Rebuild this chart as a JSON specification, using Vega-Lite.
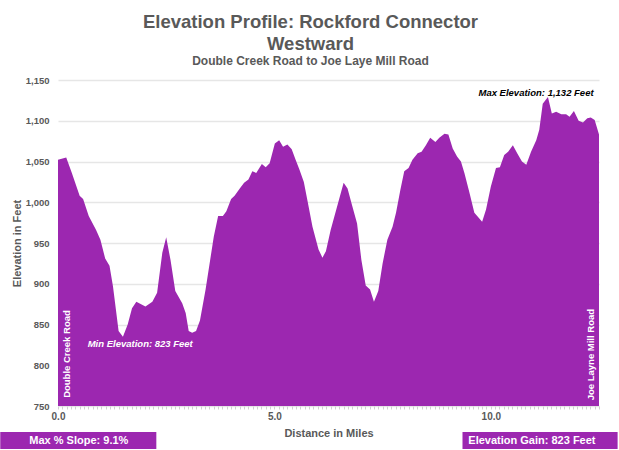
{
  "$schema": "https://vega.github.io/schema/vega-lite/v6.json",
  "width": 541,
  "height": 326,
  "autosize": "none",
  "padding": {"left": 58, "top": 80, "right": 20, "bottom": 44},
  "background": "white",
  "config": {
    "font": "Liberation Sans",
    "view": {"stroke": null}
  },
  "title": {
    "text": ["Elevation Profile: Rockford Connector", "Westward"],
    "subtitle": "Double Creek Road to Joe Laye Mill Road",
    "fontSize": 18.5,
    "fontWeight": "bold",
    "color": "#595959",
    "subtitleColor": "#595959",
    "subtitleFontSize": 12,
    "subtitleFontWeight": "bold",
    "anchor": "middle",
    "dx": -18,
    "lineHeight": 22,
    "subtitlePadding": 3,
    "offset": 8
  },
  "datasets": {
    "profile": [
      {"mile": 0.0, "elev": 1052}, {"mile": 0.19, "elev": 1055}, {"mile": 0.32, "elev": 1036},
      {"mile": 0.5, "elev": 1008}, {"mile": 0.58, "elev": 1004}, {"mile": 0.71, "elev": 983},
      {"mile": 0.88, "elev": 966}, {"mile": 0.98, "elev": 954}, {"mile": 1.09, "elev": 931},
      {"mile": 1.19, "elev": 922}, {"mile": 1.27, "elev": 897}, {"mile": 1.4, "elev": 842},
      {"mile": 1.5, "elev": 835}, {"mile": 1.61, "elev": 850}, {"mile": 1.71, "elev": 870},
      {"mile": 1.81, "elev": 878}, {"mile": 2.02, "elev": 872}, {"mile": 2.18, "elev": 878},
      {"mile": 2.29, "elev": 889}, {"mile": 2.41, "elev": 938}, {"mile": 2.5, "elev": 957},
      {"mile": 2.6, "elev": 929}, {"mile": 2.71, "elev": 891}, {"mile": 2.87, "elev": 876},
      {"mile": 2.95, "elev": 864}, {"mile": 3.02, "elev": 842}, {"mile": 3.1, "elev": 840},
      {"mile": 3.19, "elev": 842}, {"mile": 3.28, "elev": 855}, {"mile": 3.41, "elev": 893},
      {"mile": 3.53, "elev": 934}, {"mile": 3.6, "elev": 958}, {"mile": 3.7, "elev": 983},
      {"mile": 3.81, "elev": 983}, {"mile": 3.89, "elev": 989}, {"mile": 4.0, "elev": 1004},
      {"mile": 4.08, "elev": 1008}, {"mile": 4.2, "elev": 1017}, {"mile": 4.3, "elev": 1024},
      {"mile": 4.4, "elev": 1028}, {"mile": 4.49, "elev": 1038}, {"mile": 4.58, "elev": 1036},
      {"mile": 4.71, "elev": 1047}, {"mile": 4.8, "elev": 1043}, {"mile": 4.89, "elev": 1048},
      {"mile": 5.01, "elev": 1072}, {"mile": 5.11, "elev": 1076}, {"mile": 5.2, "elev": 1068},
      {"mile": 5.3, "elev": 1071}, {"mile": 5.4, "elev": 1065}, {"mile": 5.49, "elev": 1052},
      {"mile": 5.58, "elev": 1040}, {"mile": 5.68, "elev": 1025}, {"mile": 5.76, "elev": 1003},
      {"mile": 5.88, "elev": 970}, {"mile": 6.02, "elev": 942}, {"mile": 6.11, "elev": 932},
      {"mile": 6.19, "elev": 940}, {"mile": 6.3, "elev": 966}, {"mile": 6.46, "elev": 997},
      {"mile": 6.6, "elev": 1024}, {"mile": 6.69, "elev": 1017}, {"mile": 6.78, "elev": 999},
      {"mile": 6.91, "elev": 974}, {"mile": 7.01, "elev": 929}, {"mile": 7.11, "elev": 898},
      {"mile": 7.21, "elev": 893}, {"mile": 7.3, "elev": 878}, {"mile": 7.4, "elev": 891},
      {"mile": 7.5, "elev": 925}, {"mile": 7.61, "elev": 954}, {"mile": 7.73, "elev": 970},
      {"mile": 7.81, "elev": 987}, {"mile": 7.91, "elev": 1015}, {"mile": 8.0, "elev": 1038},
      {"mile": 8.1, "elev": 1042}, {"mile": 8.19, "elev": 1052}, {"mile": 8.31, "elev": 1060},
      {"mile": 8.4, "elev": 1062}, {"mile": 8.5, "elev": 1070}, {"mile": 8.6, "elev": 1079},
      {"mile": 8.72, "elev": 1074}, {"mile": 8.81, "elev": 1079}, {"mile": 8.93, "elev": 1084},
      {"mile": 9.02, "elev": 1083}, {"mile": 9.12, "elev": 1066}, {"mile": 9.22, "elev": 1056},
      {"mile": 9.31, "elev": 1050}, {"mile": 9.39, "elev": 1036}, {"mile": 9.51, "elev": 1011},
      {"mile": 9.62, "elev": 987}, {"mile": 9.8, "elev": 976}, {"mile": 9.89, "elev": 991},
      {"mile": 10.0, "elev": 1019}, {"mile": 10.12, "elev": 1042}, {"mile": 10.21, "elev": 1043},
      {"mile": 10.31, "elev": 1058}, {"mile": 10.4, "elev": 1062}, {"mile": 10.51, "elev": 1070},
      {"mile": 10.61, "elev": 1060}, {"mile": 10.72, "elev": 1050}, {"mile": 10.82, "elev": 1046},
      {"mile": 10.93, "elev": 1062}, {"mile": 11.05, "elev": 1076}, {"mile": 11.12, "elev": 1089},
      {"mile": 11.2, "elev": 1121}, {"mile": 11.32, "elev": 1129}, {"mile": 11.41, "elev": 1109},
      {"mile": 11.51, "elev": 1111}, {"mile": 11.63, "elev": 1108}, {"mile": 11.74, "elev": 1108},
      {"mile": 11.82, "elev": 1105}, {"mile": 11.92, "elev": 1112}, {"mile": 12.03, "elev": 1100},
      {"mile": 12.13, "elev": 1098}, {"mile": 12.23, "elev": 1103}, {"mile": 12.31, "elev": 1104},
      {"mile": 12.4, "elev": 1101}, {"mile": 12.5, "elev": 1083}
    ],
    "one": [{"label": "annotation"}]
  },
  "layer": [
    {
      "data": {"name": "profile"},
      "mark": {"type": "area", "color": "#9c27b0", "opacity": 1, "interpolate": "linear"},
      "encoding": {
        "x": {
          "field": "mile",
          "type": "quantitative",
          "scale": {"domain": [0, 12.5], "nice": false},
          "axis": {
            "title": "Distance in Miles",
            "titleFontSize": 11,
            "titleFontWeight": "bold",
            "titleColor": "#595959",
            "titlePadding": 6,
            "tickCount": 125,
            "labelExpr": "abs(datum.value - round(datum.value / 5) * 5) < 0.001 ? format(datum.value, '.1f') : ''",
            "labelOverlap": false,
            "labelFlush": false,
            "labelFontSize": 10,
            "labelFontWeight": "bold",
            "labelColor": "#595959",
            "labelPadding": 2,
            "domain": false,
            "ticks": true,
            "tickSize": 3,
            "tickColor": "#d0d0d0",
            "tickWidth": 1,
            "grid": false
          }
        },
        "y": {
          "field": "elev",
          "type": "quantitative",
          "scale": {"domain": [750, 1150], "nice": false, "zero": false},
          "axis": {
            "title": "Elevation in Feet",
            "titleFontSize": 11,
            "titleFontWeight": "bold",
            "titleColor": "#595959",
            "titlePadding": 2.5,
            "values": [750, 800, 850, 900, 950, 1000, 1050, 1100, 1150],
            "format": ",.0f",
            "labelFontSize": 9.5,
            "labelFontWeight": "bold",
            "labelColor": "#595959",
            "labelPadding": 9,
            "ticks": false,
            "domain": false,
            "grid": true,
            "gridColor": "#e6e6e6",
            "gridWidth": 1.5
          }
        },
        "y2": {"datum": 750}
      }
    },
    {
      "data": {"name": "one"},
      "mark": {"type": "text", "angle": 270, "align": "left", "baseline": "middle", "color": "white", "fontSize": 9.5, "fontWeight": "bold"},
      "encoding": {
        "x": {"datum": 0.2, "type": "quantitative"},
        "y": {"datum": 760, "type": "quantitative"},
        "text": {"value": "Double Creek Road"}
      }
    },
    {
      "data": {"name": "one"},
      "mark": {"type": "text", "angle": 270, "align": "left", "baseline": "middle", "color": "white", "fontSize": 9.5, "fontWeight": "bold"},
      "encoding": {
        "x": {"datum": 12.31, "type": "quantitative"},
        "y": {"datum": 757, "type": "quantitative"},
        "text": {"value": "Joe Layne Mill Road"}
      }
    },
    {
      "data": {"name": "one"},
      "mark": {"type": "text", "align": "center", "baseline": "middle", "color": "white", "fontSize": 9.5, "fontWeight": "bold", "fontStyle": "italic"},
      "encoding": {
        "x": {"datum": 1.9, "type": "quantitative"},
        "y": {"datum": 826, "type": "quantitative"},
        "text": {"value": "Min Elevation: 823 Feet"}
      }
    },
    {
      "data": {"name": "one"},
      "mark": {"type": "text", "align": "right", "baseline": "middle", "color": "black", "fontSize": 9.5, "fontWeight": "bold", "fontStyle": "italic"},
      "encoding": {
        "x": {"datum": 12.375, "type": "quantitative"},
        "y": {"datum": 1134, "type": "quantitative"},
        "text": {"value": "Max Elevation: 1,132 Feet"}
      }
    },
    {
      "data": {"name": "one"},
      "mark": {"type": "rect", "color": "#9c27b0"},
      "encoding": {
        "x": {"datum": -1.334, "type": "quantitative"},
        "x2": {"datum": 2.272},
        "y": {"datum": 718.1, "type": "quantitative"},
        "y2": {"datum": 697.3}
      }
    },
    {
      "data": {"name": "one"},
      "mark": {"type": "rect", "color": "#9c27b0"},
      "encoding": {
        "x": {"datum": 9.346, "type": "quantitative"},
        "x2": {"datum": 12.93},
        "y": {"datum": 718.1, "type": "quantitative"},
        "y2": {"datum": 697.3}
      }
    },
    {
      "data": {"name": "one"},
      "mark": {"type": "text", "align": "center", "baseline": "middle", "color": "white", "fontSize": 11, "fontWeight": "bold"},
      "encoding": {
        "x": {"datum": 0.481, "type": "quantitative"},
        "y": {"datum": 707.5, "type": "quantitative"},
        "text": {"value": "Max % Slope: 9.1%"}
      }
    },
    {
      "data": {"name": "one"},
      "mark": {"type": "text", "align": "center", "baseline": "middle", "color": "white", "fontSize": 11, "fontWeight": "bold"},
      "encoding": {
        "x": {"datum": 10.95, "type": "quantitative"},
        "y": {"datum": 707.5, "type": "quantitative"},
        "text": {"value": "Elevation Gain: 823 Feet"}
      }
    }
  ]
}
